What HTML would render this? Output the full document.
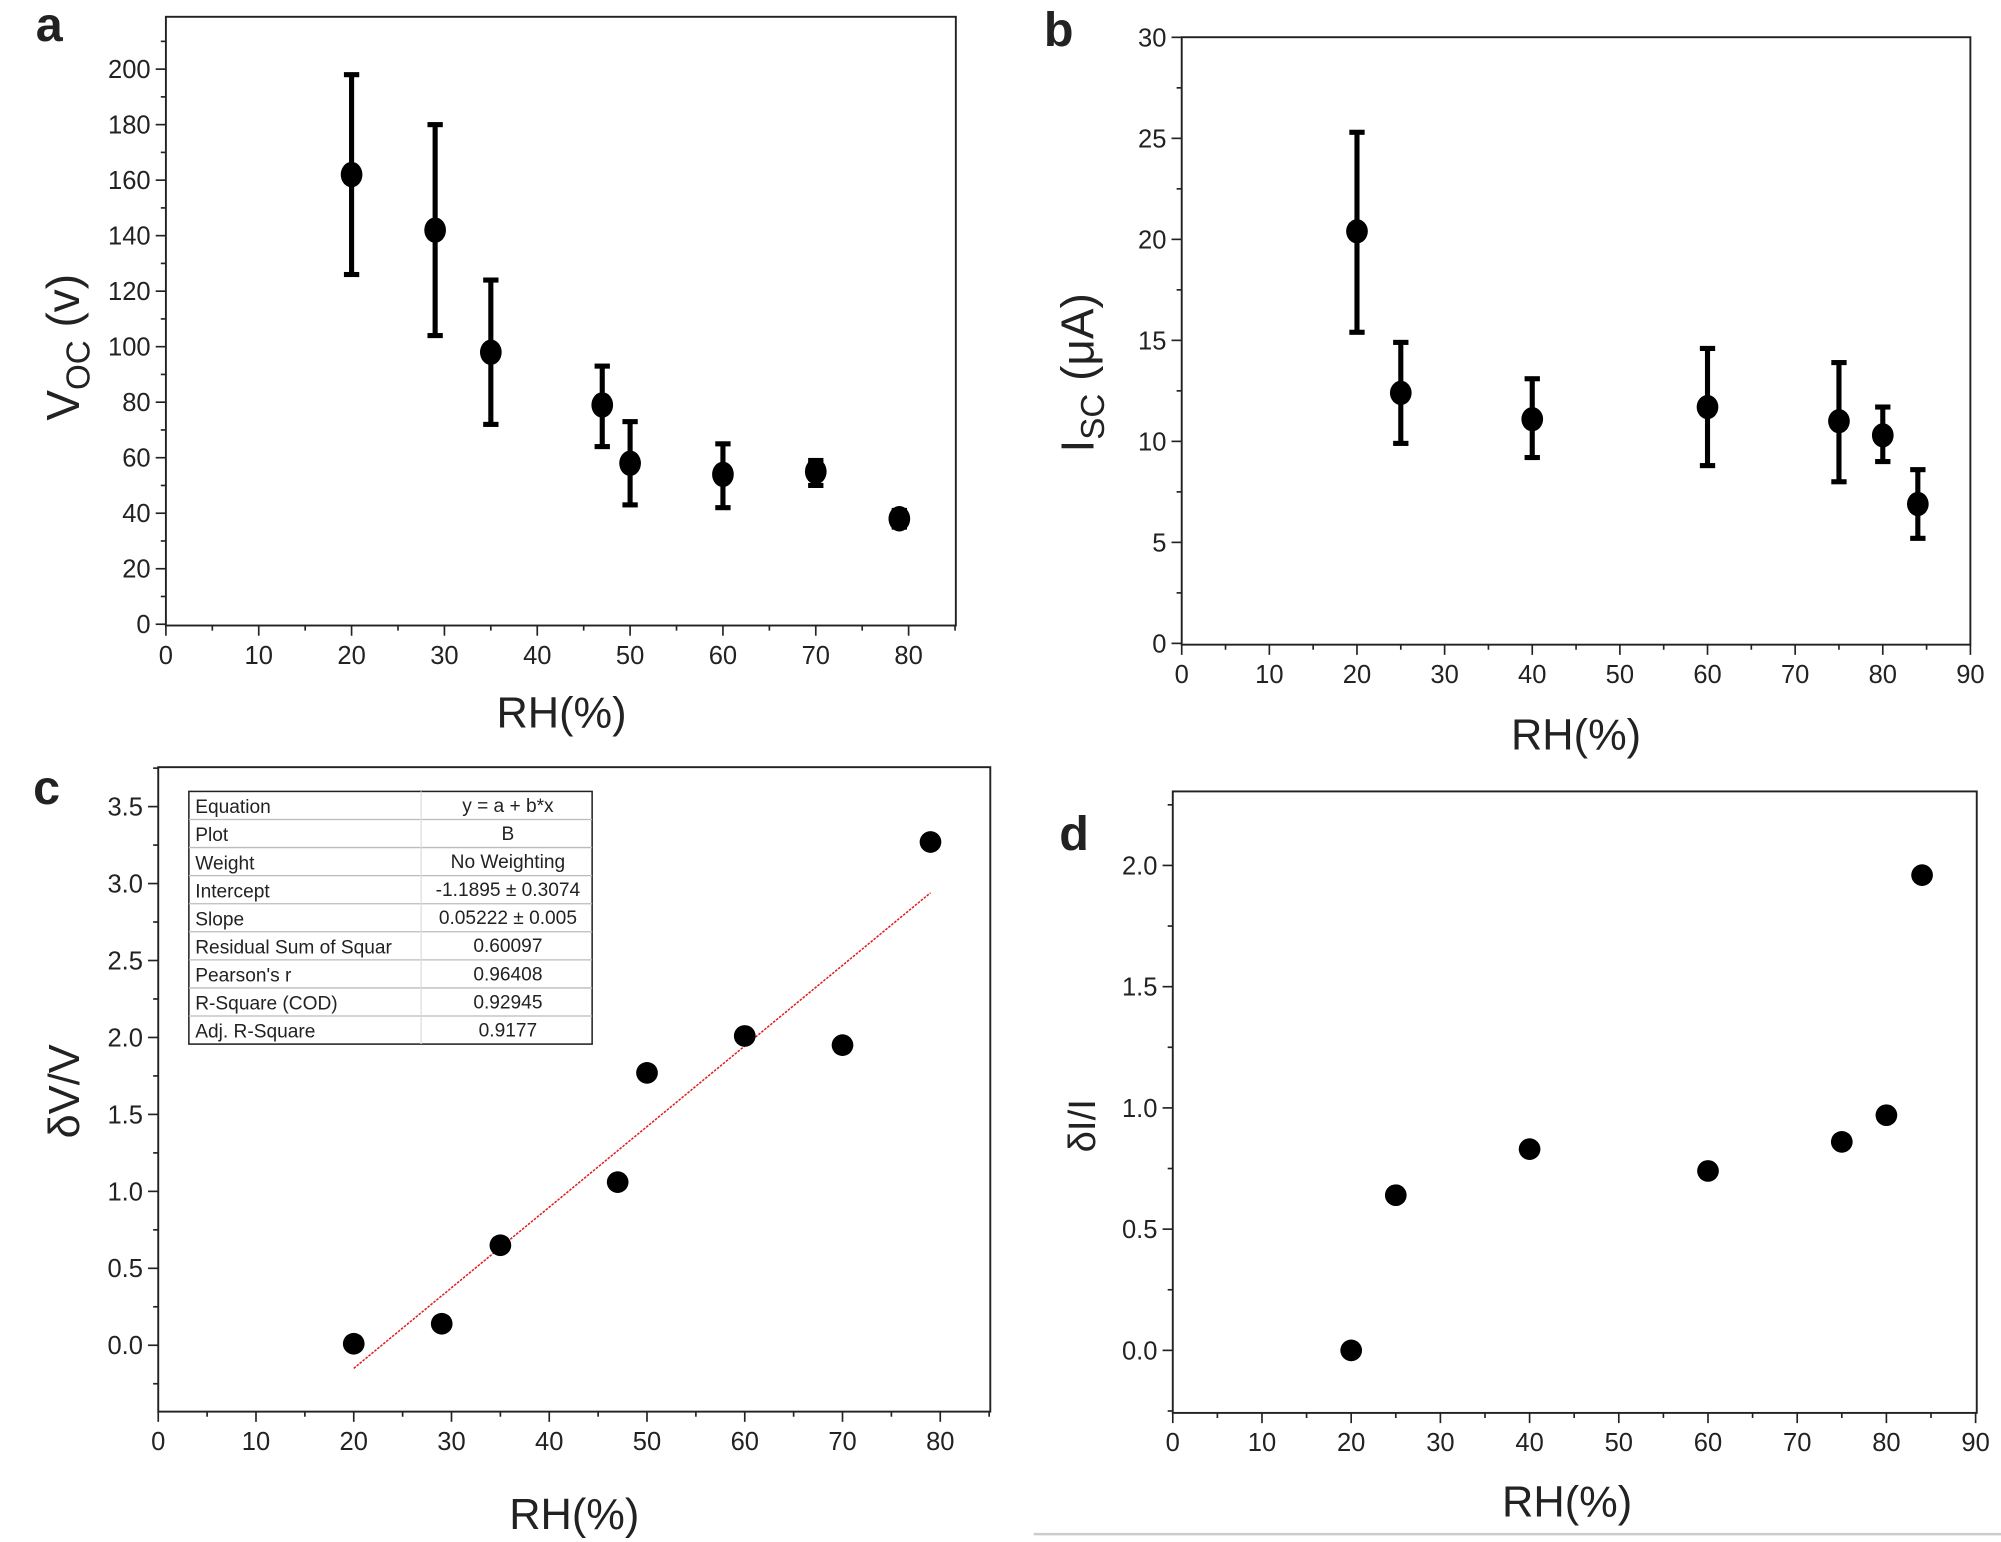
<!DOCTYPE html>
<html><head><meta charset="utf-8"><style>
html,body{margin:0;padding:0;background:#fff}
svg{display:block}
text{font-family:"Liberation Sans",sans-serif;fill:#222}
</style></head><body>
<svg id="s" width="2001" height="1542" viewBox="0 0 1568 1208" xmlns="http://www.w3.org/2000/svg">
<rect width="1568" height="1208" fill="#fff"/>
<line x1="810" y1="1202" x2="1568" y2="1202" stroke="#ccc" stroke-width="2"/>
<g id="g"></g>
</svg>
<script>
var g=document.getElementById('g'),NS='http://www.w3.org/2000/svg';
function el(t,a,txt){var e=document.createElementNS(NS,t);for(var k in a)e.setAttribute(k,a[k]);if(txt!==undefined)e.textContent=txt;g.appendChild(e);return e;}
function panel(p){
 var L=p.L,R=p.R,T=p.T,B=p.B;
 var X=function(v){return p.x0+(v)*p.xs;},Y=function(v){return p.y0-(v)*p.ys;};
 el('rect',{x:L,y:T,width:R-L,height:B-T,fill:'none',stroke:'#222','stroke-width':1.5});
 for(var v=0;X(v)<=R+0.5;v+=p.xm){var maj=Math.abs(v/p.xM-Math.round(v/p.xM))<1e-6;
  el('line',{x1:X(v),x2:X(v),y1:B,y2:B+(maj?8:4),stroke:'#222','stroke-width':1.3});
  if(maj)el('text',{x:X(v),y:B+30,'font-size':20,'text-anchor':'middle'},Math.round(v));}
 for(var v=p.ymin;Y(v)>=T-0.5;v+=p.ym){var maj=Math.abs(v/p.yM-Math.round(v/p.yM))<1e-6;
  if(Y(v)>B+0.5)continue;
  el('line',{x1:L,x2:L-(maj?8:4),y1:Y(v),y2:Y(v),stroke:'#222','stroke-width':1.3});
  if(maj)el('text',{x:L-12,y:Y(v)+7,'font-size':20,'text-anchor':'end'},v.toFixed(p.yd));}
 if(p.fit)el('line',{x1:X(20),y1:Y(-0.15),x2:X(79),y2:Y(2.94),stroke:'#e02020','stroke-width':1.2,'stroke-dasharray':'2,1'});
 p.d.forEach(function(d){
  if(d.length>2){var x=X(d[0]);el('line',{x1:x,x2:x,y1:Y(d[2]),y2:Y(d[3]),stroke:'#000','stroke-width':4});
   el('line',{x1:x-6,x2:x+6,y1:Y(d[2]),y2:Y(d[2]),stroke:'#000','stroke-width':4});
   el('line',{x1:x-6,x2:x+6,y1:Y(d[3]),y2:Y(d[3]),stroke:'#000','stroke-width':4});}
  el('ellipse',{cx:X(d[0]),cy:Y(d[1]),rx:8.5,ry:p.ry||8.5,fill:'#000'});
 });
}
panel({L:130,R:749,T:13,B:490,x0:130,xs:7.275,y0:489,ys:2.175,xm:5,xM:10,ymin:0,ym:10,yM:20,yd:0,ry:10,
 d:[[20,162,126,198],[29,142,104,180],[35,98,72,124],[47,79,64,93],[50,58,43,73],[60,54,42,65],[70,55,50,59],[79,38,35,41]]});
panel({L:926,R:1544,T:29,B:505,x0:926,xs:6.867,y0:504,ys:15.83,xm:5,xM:10,ymin:0,ym:2.5,yM:5,yd:0,ry:9.5,
 d:[[20,20.4,15.4,25.3],[25,12.4,9.9,14.9],[40,11.1,9.2,13.1],[60,11.7,8.8,14.6],[75,11.0,8,13.9],[80,10.3,9,11.7],[84,6.9,5.2,8.6]]});
panel({L:124,R:776,T:601,B:1106,x0:124,xs:7.66,y0:1054,ys:120.6,xm:5,xM:10,ymin:-0.25,ym:0.25,yM:0.5,yd:1,fit:1,ry:8.5,
 d:[[20,0.01],[29,0.14],[35,0.65],[47,1.06],[50,1.77],[60,2.01],[70,1.95],[79,3.27]]});
panel({L:919,R:1549,T:620,B:1107,x0:919,xs:6.99,y0:1058,ys:190,xm:5,xM:10,ymin:-0.25,ym:0.25,yM:0.5,yd:1,ry:8.5,
 d:[[20,0],[25,0.64],[40,0.83],[60,0.74],[75,0.86],[80,0.97],[84,1.96]]});
var rows=[["Equation","y = a + b*x"],["Plot","B"],["Weight","No Weighting"],["Intercept","-1.1895 \u00b1 0.3074"],["Slope","0.05222 \u00b1 0.005"],["Residual Sum of Squar","0.60097"],["Pearson's r","0.96408"],["R-Square (COD)","0.92945"],["Adj. R-Square","0.9177"]];
el('rect',{x:148,y:620,width:316,height:198,fill:'#fff',stroke:'#222','stroke-width':1.2});
rows.forEach(function(r,i){var y=620+i*22;
 if(i>0)el('line',{x1:148,x2:464,y1:y,y2:y,stroke:'#bbb','stroke-width':1});
 el('text',{x:153,y:y+17,'font-size':15},r[0]);
 el('text',{x:398,y:y+16,'font-size':15,'text-anchor':'middle'},r[1]);});
el('line',{x1:330,x2:330,y1:620,y2:818,stroke:'#ddd','stroke-width':1});
function T(x,y,t,a){var o={x:x,y:y};for(var k in a)o[k]=a[k];return el('text',o,t);}
T(28,32,"a",{'font-size':38,'font-weight':'bold'});
T(818,36,"b",{'font-size':38,'font-weight':'bold'});
T(26,630,"c",{'font-size':38,'font-weight':'bold'});
T(830,666,"d",{'font-size':38,'font-weight':'bold'});
T(440,570,"RH(%)",{'font-size':34,'text-anchor':'middle'});
T(1235,587,"RH(%)",{'font-size':34,'text-anchor':'middle'});
T(450,1198,"RH(%)",{'font-size':34,'text-anchor':'middle'});
T(1228,1188,"RH(%)",{'font-size':34,'text-anchor':'middle'});
var t=T(0,0,"",{'font-size':36,transform:'translate(62,272) rotate(-90)','text-anchor':'middle'});
t.innerHTML='V<tspan font-size="26" dy="8">OC</tspan><tspan dy="-8"> (v)</tspan>';
var t2=T(0,0,"",{'font-size':36,transform:'translate(857,292) rotate(-90)','text-anchor':'middle'});
t2.innerHTML='I<tspan font-size="26" dy="8">SC</tspan><tspan dy="-8"> (\u03bcA)</tspan>';
T(0,0,"\u03b4V/V",{'font-size':34,transform:'translate(62,855) rotate(-90)','text-anchor':'middle'});
T(0,0,"\u03b4I/I",{'font-size':30,transform:'translate(858,882) rotate(-90)','text-anchor':'middle'});
</script>
</body></html>
